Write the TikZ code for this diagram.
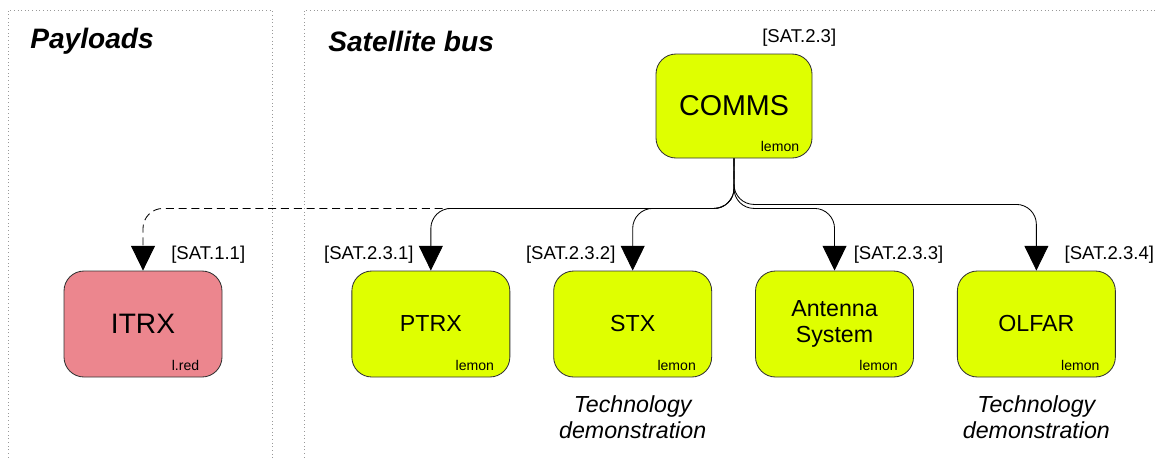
\documentclass[tikz,border=0pt]{standalone}
\usepackage{fontspec}
\setmainfont{Liberation Sans}
\usetikzlibrary{arrows.meta,positioning,calc}
\definecolor{lemon}{HTML}{DFFF00}
\definecolor{lred}{HTML}{EC868E}
\definecolor{bk80}{HTML}{333333}
\definecolor{bk50}{HTML}{999999}
\tikzset{
  subsysbox/.style={
    rectangle, rounded corners=0.5cm, draw=bk80, fill=#1, line width=0.6pt,
    minimum width=3.95cm, minimum height=2.65cm,
    font=\fontsize{16.5}{19}\selectfont, align=center,
    inner sep=2pt
  },
  subsysbox/.default=lemon,
  reflabel/.style={font=\fontsize{13.2}{15}\selectfont, inner sep=0pt},
  colourtag/.style={font=\fontsize{10}{12}\selectfont, inner sep=0pt,
    anchor=base east},
  panelframe/.style={draw=bk50, dotted, line width=0.6pt},
  paneltitle/.style={font=\fontsize{20}{24}\selectfont\bfseries\itshape,
    inner sep=0pt, anchor=base west},
  link/.style={-{Triangle[length=0.62cm, width=0.6cm]}, line width=0.6pt,
    color=black, rounded corners=0.5cm},
  note/.style={font=\fontsize{16.5}{18.5}\selectfont\itshape, align=center,
    inner sep=0pt},
}
\begin{document}
\begin{tikzpicture}
\useasboundingbox (0,0) rectangle (28.9,-11.45);

% Panels
\draw[panelframe] (0.2,-11.8) |- (6.8,-0.25) -- (6.8,-11.8);
\draw[panelframe] (7.6,-11.8) |- (29.3,-0.25);
\node[paneltitle] (paytitle) at (0.75,-1.2) {Payloads};
\node[paneltitle] (bustitle) at (8.2,-1.28) {Satellite bus};

% Top level
\node[subsysbox, minimum width=3.9cm, minimum height=2.6cm,
  font=\fontsize{20.4}{24}\selectfont] (comms) at (18.35,-2.65) {COMMS};

% Subsystems
\node[subsysbox=lred, font=\fontsize{20}{24}\selectfont] (itrx) at (3.575,-8.1) {ITRX};
\node[subsysbox, right=3.225cm of itrx] (ptrx) {PTRX};
\node[subsysbox, right=1.075cm of ptrx] (stx) {STX};
\node[subsysbox, right=1.075cm of stx] (antenna) {Antenna\\System};
\node[subsysbox, right=1.075cm of antenna] (olfar) {OLFAR};

% Colour tags
\node[colourtag] (commstag) at ($(comms.south east)+(-0.325,0.18)$) {lemon};
\foreach \b/\t/\dx in {itrx/l.red/0.575, ptrx/lemon/0.4, stx/lemon/0.4,
                       antenna/lemon/0.4, olfar/lemon/0.4}
  \node[colourtag] (\b tag) at ($(\b.south east)+(-\dx,0.18)$) {\t};

% Reference labels
\node[reflabel, anchor=base west] (commsref) at ($(comms.north)+(0.7,0.28)$) {[SAT.2.3]};
\node[reflabel, anchor=base west] (itrxref) at ($(itrx.north)+(0.7,0.27)$) {[SAT.1.1]};
\node[reflabel, anchor=base east] (ptrxref) at ($(ptrx.north)+(-0.425,0.27)$) {[SAT.2.3.1]};
\node[reflabel, anchor=base east] (stxref) at ($(stx.north)+(-0.425,0.27)$) {[SAT.2.3.2]};
\node[reflabel, anchor=base west] (antennaref) at ($(antenna.north)+(0.475,0.27)$) {[SAT.2.3.3]};
\node[reflabel, anchor=base west] (olfarref) at ($(olfar.north)+(0.7,0.27)$) {[SAT.2.3.4]};

% Connectors
\coordinate (hub) at ($(comms.south)+(0,-1.25)$);
\draw[link] (comms.south) -- (hub) -| (ptrx.north);
\draw[link] (comms.south) -- (hub) -| (stx.north);
\draw[link] (comms.south) -- (hub) -| (antenna.north);
\draw[link] (comms.south) -- ($(hub)+(0,0.1)$) -| (olfar.north);
\draw[link, dash pattern=on 0.2cm off 0.12cm] (comms.south) -- (hub) -| (itrx.north);

% Notes
\node[note, below=0.45cm of stx] (stxnote) {Technology\\demonstration};
\node[note, below=0.45cm of olfar] (olfarnote) {Technology\\demonstration};

\end{tikzpicture}
\end{document}
